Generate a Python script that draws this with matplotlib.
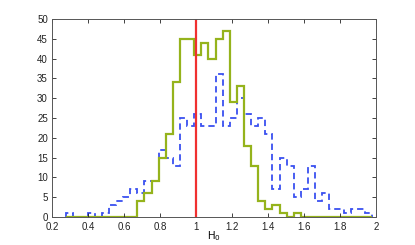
import numpy as np
import matplotlib.pyplot as plt

# histogram bins (43 equal bins)
bin_start = 0.279
bin_width = 0.0395
n_bins = 43

blue_counts = [1, 0, 0, 1, 0, 1, 3, 4, 5, 7, 6, 9, 9, 17, 15, 13, 25, 23, 26, 23,
               23, 36, 23, 25, 30, 26, 23, 25, 21, 7, 15, 13, 5, 7, 13, 4, 6, 2, 2, 1,
               2, 2, 1]
green_counts = [0, 0, 0, 0, 0, 0, 0, 0, 0, 0, 4, 6, 9, 15, 21, 34, 45, 45, 41, 44,
                40, 45, 47, 29, 33, 18, 13, 4, 2, 3, 1, 0, 1, 0, 0, 0, 0, 0, 0, 0,
                0, 0, 0]
ref_value = 1.0

xticks = [0.2, 0.4, 0.6, 0.8, 1, 1.2, 1.4, 1.6, 1.8, 2]
yticks = list(range(0, 51, 5))

edges = bin_start + bin_width * np.arange(n_bins + 1)

plt.rcParams['font.family'] = ['Liberation Sans', 'DejaVu Sans']

fig = plt.figure(figsize=(4.15, 2.45), dpi=100)
ax = fig.add_axes([52 / 415, 1 - 217 / 245, 324 / 415, 198 / 245])

ax.stairs(blue_counts, edges, color='#3a50f0', lw=1.3, linestyle=(0, (3.5, 2.2)))
ax.stairs(green_counts, edges, color='#95b31c', lw=1.6)
ax.plot([ref_value, ref_value], [0, 50], color='#f03030', lw=1.6)

ax.set_xlim(0.2, 2)
ax.set_ylim(0, 50)
ax.set_xticks(xticks)
ax.set_xticklabels([f'{t:g}' for t in xticks])
ax.set_yticks(yticks)
ax.tick_params(direction='in', top=True, right=True, length=3, width=0.6,
               labelsize=7, colors='#222222')
ax.tick_params(axis='x', pad=3.5)
ax.tick_params(axis='y', pad=3)
for s in ax.spines.values():
    s.set_color('#555555')
    s.set_linewidth(0.7)

ax.set_xlabel('H$_0$', fontsize=7.5, va='top')
ax.xaxis.set_label_coords(0.5, -0.06)

fig.savefig('out.png', dpi=100)
